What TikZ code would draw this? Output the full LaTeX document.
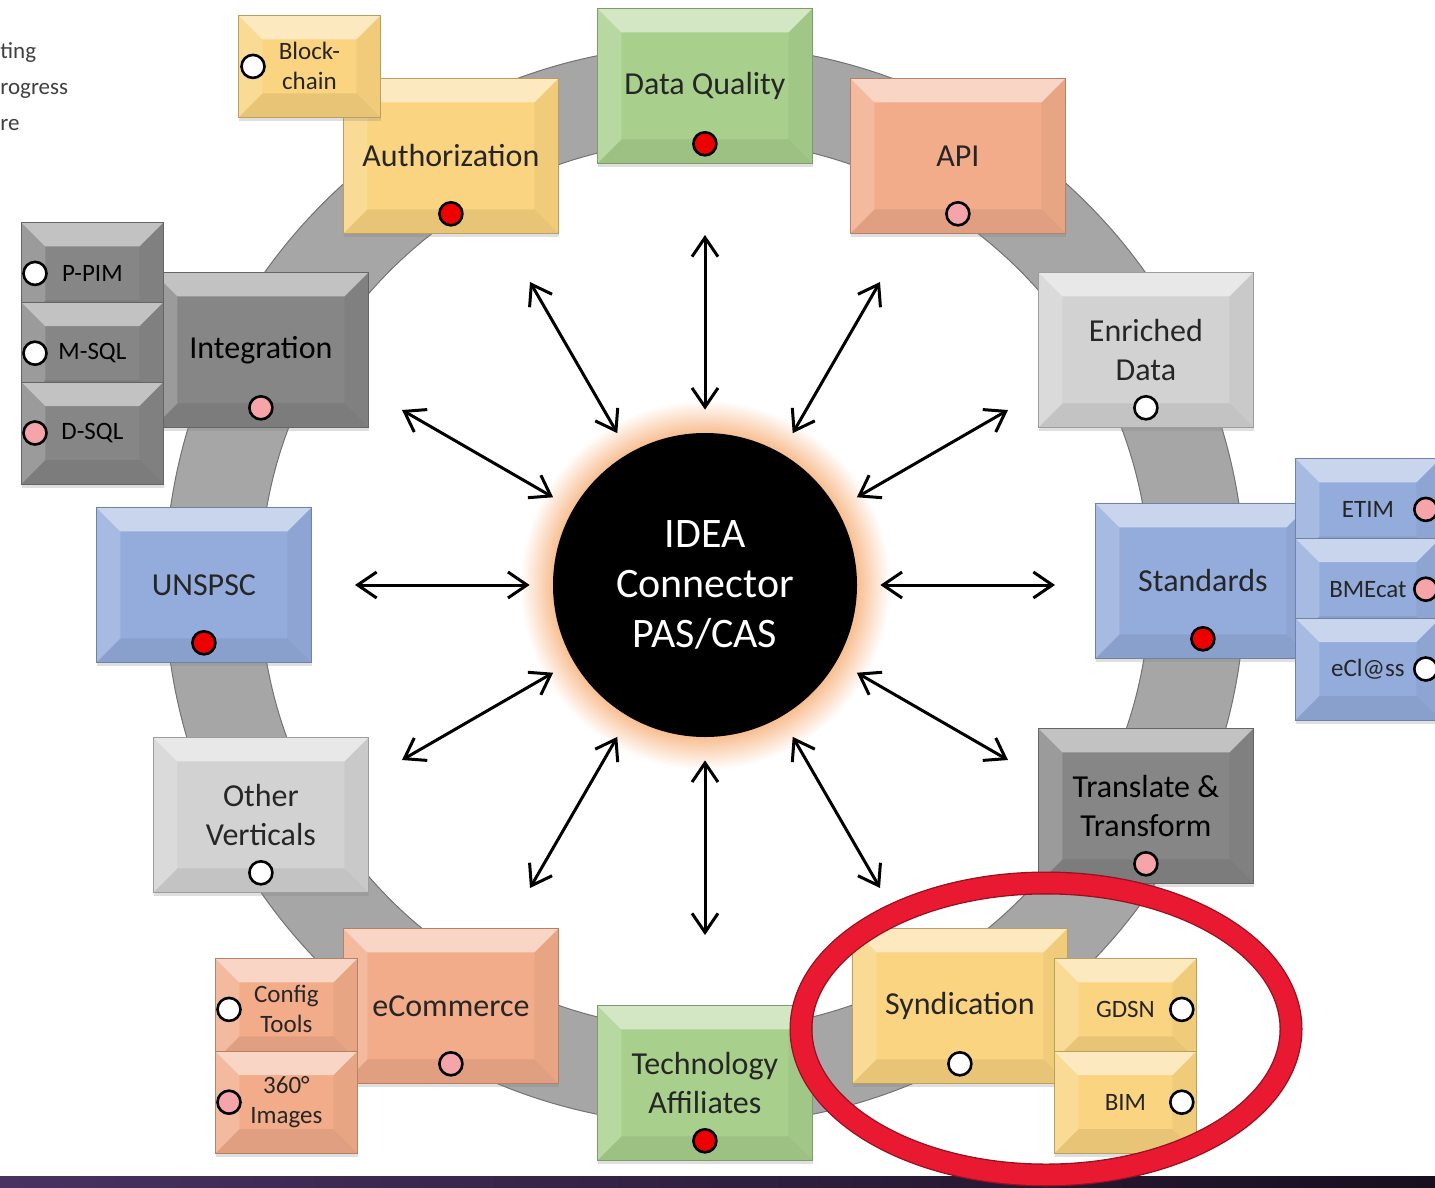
\documentclass[tikz,border=0pt]{standalone}
\usepackage{fontspec}
\setmainfont{Carlito}
\usetikzlibrary{arrows.meta, positioning, shadows}

\definecolor{tilegold}{RGB}{250,212,128}
\definecolor{tilegreen}{RGB}{168,208,140}
\definecolor{tilesalmon}{RGB}{242,172,138}
\definecolor{tilesilver}{RGB}{210,210,210}
\definecolor{tilesteel}{RGB}{134,134,134}
\definecolor{tileblue}{RGB}{148,172,220}
\definecolor{ringgray}{RGB}{166,166,166}
\definecolor{glowtone}{RGB}{248,190,145}
\definecolor{ovalred}{RGB}{232,25,48}
\definecolor{dotred}{RGB}{238,0,0}
\definecolor{dotpink}{RGB}{245,165,170}

\pgfdeclareradialshading{glow}{\pgfpointorigin}{color(0bp)=(glowtone); color(20.5bp)=(glowtone); color(25bp)=(white); color(50bp)=(white)}

\newcommand\bev{12pt}
\newcommand\tilefont{\fontsize{16}{19.5}\selectfont}
\newcommand\chipfont{\fontsize{12.5}{15}\selectfont}

\tikzset{
  tile/.style={rectangle, anchor=north west, inner sep=0pt, align=center,
    fill=#1, draw=#1!75!black, line width=0.4pt,
    minimum width=107.5pt, minimum height=77.5pt,
    font=\tilefont, text=black!85,
    drop shadow={shadow xshift=0.5pt, shadow yshift=-2pt, opacity=0.25},
    path picture={
      \coordinate (tl) at (path picture bounding box.north west);
      \coordinate (tr) at (path picture bounding box.north east);
      \coordinate (bl) at (path picture bounding box.south west);
      \coordinate (br) at (path picture bounding box.south east);
      \fill[white, opacity=0.5] (tl) -- (tr) -- ([xshift=-\bev,yshift=-\bev]tr) -- ([xshift=\bev,yshift=-\bev]tl) -- cycle;
      \fill[white, opacity=0.18] (tl) -- ([xshift=\bev,yshift=-\bev]tl) -- ([xshift=\bev,yshift=\bev]bl) -- (bl) -- cycle;
      \fill[black, opacity=0.04] (tr) -- ([xshift=-\bev,yshift=-\bev]tr) -- ([xshift=-\bev,yshift=\bev]br) -- (br) -- cycle;
      \fill[black, opacity=0.07] (bl) -- (br) -- ([xshift=-\bev,yshift=\bev]br) -- ([xshift=\bev,yshift=\bev]bl) -- cycle;
    }},
  chip/.style={tile=#1, minimum width=71pt, minimum height=51pt, font=\chipfont},
  dot/.style={circle, draw=black, line width=1.3pt, fill=#1, minimum size=11.5pt, inner sep=0pt},
  hub/.style={circle, fill=black, text=white, minimum size=152pt, inner sep=0pt, align=center,
    font=\fontsize{21}{25}\selectfont},
  link/.style={<->, line width=1.5pt, shorten <=11.5pt},
  legend/.style={anchor=base west, inner sep=0pt, text=black!75, font=\fontsize{11.5}{14}\selectfont}
}

\begin{document}
\begin{tikzpicture}[x=0.5pt, y=-0.5pt, >={Straight Barb[length=9.5pt, width=13pt]}]

	\useasboundingbox (0,0) rectangle (1435,1188);
	\clip (0,0) rectangle (1435,1188);

	% ring and glow
	\coordinate (mid) at (705,585);
	\fill[ringgray, draw=black!55, line width=0.5pt, even odd rule] (mid) circle[radius=270pt] (mid) circle[radius=222.5pt];
	\shade[shading=glow] (mid) circle[radius=92.5pt];

	% hub
	\node[hub] (hub) at (mid) {IDEA\\Connector\\PAS/CAS};

	\coordinate (e0) at (1055,585);
	\coordinate (e30) at (1008,410);
	\coordinate (e60) at (880,282);
	\coordinate (e90) at (705,235);
	\coordinate (e120) at (530,282);
	\coordinate (e150) at (402,410);
	\coordinate (e180) at (355,585);
	\coordinate (e210) at (402,760);
	\coordinate (e240) at (530,888);
	\coordinate (e270) at (705,935);
	\coordinate (e300) at (880,888);
	\coordinate (e330) at (1008,760);

	\path[link]
	(hub) edge (e0) edge (e30) edge (e60) edge (e90)
	      edge (e120) edge (e150) edge (e180) edge (e210)
	      edge (e240) edge (e270) edge (e300) edge (e330);

	% legend
	\node[legend] (leg1) at (0,59) {ting};
	\node[legend] (leg2) at (0,95) {rogress};
	\node[legend] (leg3) at (0,131) {re};

	% main tiles
	\node[tile=tilegold] (auth) at (343,78) {Authorization};
	\node[tile=tilegreen] (dq) at (597,8) {Data Quality};
	\node[tile=tilesalmon] (api) at (850,78) {API};
	\node[tile=tilesilver] (enr) at (1038,272) {Enriched\\Data};
	\node[tile=tileblue] (std) at (1095,503) {Standards};
	\node[tile=tilesteel, text=black] (trans) at (1038,728) {Translate \&\\Transform};
	\node[tile=tilegold] (synd) at (852,928) {Syndication};
	\node[tile=tilegreen] (tech) at (597,1005) {Technology\\Affiliates};
	\node[tile=tilesalmon] (ecom) at (343,928) {eCommerce};
	\node[tile=tilesilver] (other) at (153,737) {Other\\Verticals};
	\node[tile=tileblue] (unspsc) at (96,507) {UNSPSC};
	\node[tile=tilesteel, text=black] (integ) at (153,272) {Integration};

	% side chips
	\node[chip=tilegold] (block) at (238,15) {Block-\\chain};
	\node[chip=tilesteel, text=black] (ppim) at (21,222) {P-PIM};
	\node[chip=tilesteel, text=black] (msql) [below=-11.5pt of ppim] {M-SQL};
	\node[chip=tilesteel, text=black] (dsql) [below=-11.5pt of msql] {D-SQL};
	\node[chip=tileblue, minimum width=72.5pt] (etim) at (1295,458) {ETIM};
	\node[chip=tileblue, minimum width=72.5pt] (bmecat) [below=-11.5pt of etim] {BMEcat};
	\node[chip=tileblue, minimum width=72.5pt] (eclass) [below=-11.5pt of bmecat] {eCl@ss};
	\node[chip=tilesalmon] (config) at (215,958) {Config\\Tools};
	\node[chip=tilesalmon] (img) [below=-5pt of config] {360°\\Images};
	\node[chip=tilegold] (gdsn) at (1054,958) {GDSN};
	\node[chip=tilegold] (bim) [below=-5pt of gdsn] {BIM};

	% status dots
	\node[dot=dotred] (auth-st) at ([yshift=10pt]auth.south) {};
	\node[dot=dotred] (dq-st) at ([yshift=10pt]dq.south) {};
	\node[dot=dotpink] (api-st) at ([yshift=10pt]api.south) {};
	\node[dot=white] (enr-st) at ([yshift=10pt]enr.south) {};
	\node[dot=dotred] (std-st) at ([yshift=10pt]std.south) {};
	\node[dot=dotpink] (trans-st) at ([yshift=10pt]trans.south) {};
	\node[dot=white] (synd-st) at ([yshift=10pt]synd.south) {};
	\node[dot=dotred] (tech-st) at ([yshift=10pt]tech.south) {};
	\node[dot=dotpink] (ecom-st) at ([yshift=10pt]ecom.south) {};
	\node[dot=white] (other-st) at ([yshift=10pt]other.south) {};
	\node[dot=dotred] (unspsc-st) at ([yshift=10pt]unspsc.south) {};
	\node[dot=dotpink] (integ-st) at ([yshift=10pt]integ.south) {};

	\node[dot=white] (block-st) at ([xshift=7.5pt]block.west) {};
	\node[dot=white] (ppim-st) at ([xshift=7pt]ppim.west) {};
	\node[dot=white] (msql-st) at ([xshift=7pt]msql.west) {};
	\node[dot=dotpink] (dsql-st) at ([xshift=7pt]dsql.west) {};
	\node[dot=white] (config-st) at ([xshift=7pt]config.west) {};
	\node[dot=dotpink] (img-st) at ([xshift=7pt]img.west) {};
	\node[dot=dotpink] (etim-st) at ([xshift=-7.5pt]etim.east) {};
	\node[dot=dotpink] (bmecat-st) at ([xshift=-7.5pt]bmecat.east) {};
	\node[dot=white] (eclass-st) at ([xshift=-7.5pt]eclass.east) {};
	\node[dot=white] (gdsn-st) at ([xshift=-7.5pt]gdsn.east) {};
	\node[dot=white] (bim-st) at ([xshift=-7.5pt]bim.east) {};

	% bottom strip and highlight oval
	\shade[left color={rgb,255:red,72;green,50;blue,98}, right color={rgb,255:red,24;green,14;blue,30}] (0,1176) rectangle (1435,1188);
	\coordinate (focus) at (1046,1029);
	\draw[line width=11.5pt, draw=ovalred!65!black] (focus) ellipse[x radius=122.5pt, y radius=73pt];
	\draw[line width=10.2pt, draw=ovalred] (focus) ellipse[x radius=122.5pt, y radius=73pt];

\end{tikzpicture}
\end{document}
